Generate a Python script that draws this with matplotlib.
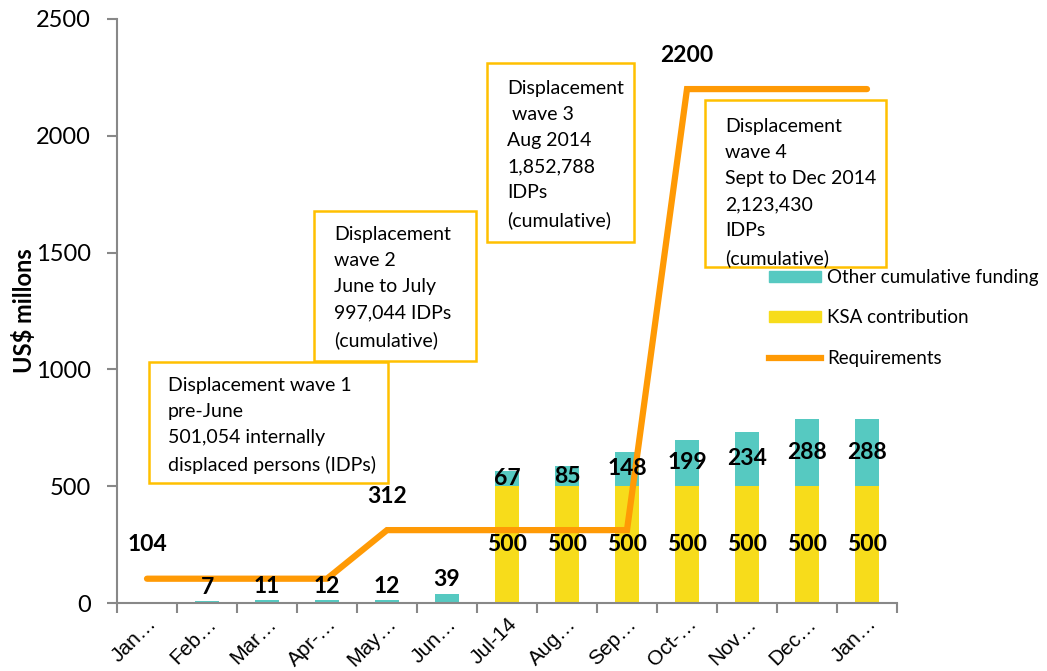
import matplotlib
matplotlib.use("Agg")
import matplotlib.pyplot as plt
from matplotlib.patches import Rectangle, Patch
from matplotlib.lines import Line2D
import numpy as np

# data
months = ["Jan\u2026", "Feb\u2026", "Mar\u2026", "Apr-\u2026", "May\u2026", "Jun\u2026", "Jul-14",
          "Aug\u2026", "Sep\u2026", "Oct-\u2026", "Nov\u2026", "Dec\u2026", "Jan\u2026"]
ksa = [0, 0, 0, 0, 0, 0, 500, 500, 500, 500, 500, 500, 500]
other = [0, 7, 11, 12, 12, 39, 67, 85, 148, 199, 234, 288, 288]
requirements = [104, 104, 104, 104, 312, 312, 312, 312, 312, 2200, 2200, 2200, 2200]
req_label_idx = [0, 4, 9]

box_texts = [
    "Displacement wave 1\npre-June\n501,054 internally\ndisplaced persons (IDPs)",
    "Displacement\nwave 2\nJune to July\n997,044 IDPs\n(cumulative)",
    "Displacement\n wave 3\nAug 2014\n1,852,788\nIDPs\n(cumulative)",
    "Displacement\nwave 4\nSept to Dec 2014\n2,123,430\nIDPs\n(cumulative)",
]

TEAL = "#56C9C1"
YELLOW = "#F7DC1B"
ORANGE = "#FF9A05"
BORDER = "#FFC000"
FONT = "Lato"

W, H = 1047, 671
fig = plt.figure(figsize=(W / 100, H / 100), dpi=100)
ax = fig.add_axes([117 / W, 1 - 603 / H, 780 / W, 584 / H])

x = np.arange(len(months))
ax.bar(x, ksa, width=0.4, color=YELLOW, label="KSA contribution", zorder=2)
ax.bar(x, other, width=0.4, bottom=ksa, color=TEAL, label="Other cumulative funding", zorder=2)
ax.plot(x, requirements, color=ORANGE, lw=4.5, solid_capstyle="round",
        solid_joinstyle="miter", zorder=3)

ax.set_xlim(-0.5, len(months) - 0.5)
ax.set_ylim(0, 2500)
ax.set_yticks(np.arange(0, 2501, 500))
ax.set_xticks(np.arange(-0.5, len(months), 1), minor=False)
ax.set_xticklabels([])
ax.set_xticks(x, minor=True)
ax.set_xticklabels(months, minor=True, rotation=45, ha="right", va="top",
                   rotation_mode="anchor", fontsize=15, family="Liberation Sans")
ax.tick_params(axis="x", which="minor", length=0, pad=8)
ax.tick_params(axis="x", which="major", length=7, color="#888888", width=1.5)
ax.tick_params(axis="y", length=7, color="#888888", width=1.5, pad=12)
for lbl in ax.get_yticklabels():
    lbl.set_fontsize(17)
    lbl.set_family(FONT)

for side in ["top", "right"]:
    ax.spines[side].set_visible(False)
for side in ["left", "bottom"]:
    ax.spines[side].set_color("#888888")
    ax.spines[side].set_linewidth(1.5)

ax.set_ylabel("US$ millons", fontsize=17, fontweight="bold", family=FONT, labelpad=0)

# data labels
lab = dict(fontsize=16.5, fontweight="bold", family=FONT, ha="center", va="center", zorder=5)
for i in range(len(months)):
    if ksa[i] > 0:
        ax.text(x[i], ksa[i] / 2, str(ksa[i]), **lab)
        ax.text(x[i], ksa[i] + other[i] / 2, str(other[i]), **lab)
    elif other[i] > 0:
        ax.annotate(str(other[i]), (x[i], other[i]), xytext=(0, 14),
                    textcoords="offset pixels", **lab)
for i in req_label_idx:
    ax.annotate(str(requirements[i]), (x[i], requirements[i]), xytext=(0, 34),
                textcoords="offset pixels", **lab)


# text boxes (pixel coords of the reference)
def px(xp, yp):
    return xp / W, 1 - yp / H


boxes = [(149, 362, 388, 483), (314, 211, 476, 361), (487, 63, 634, 242), (705, 100, 886, 267)]
text_pos = [(168, 377), (334, 226), (507, 80), (725, 118)]
for (x0, y0, x1, y1), (tx, ty), txt in zip(boxes, text_pos, box_texts):
    fx, fy = px(x0, y1)
    fig.patches.append(Rectangle((fx, fy), (x1 - x0) / W, (y1 - y0) / H, transform=fig.transFigure,
                                 facecolor="white", edgecolor=BORDER, lw=1.8, zorder=10))
    fig.text(*px(tx, ty), txt, fontsize=14, family=FONT, ha="left", va="top",
             linespacing=1.65, zorder=11)

handles = [Patch(color=TEAL), Patch(color=YELLOW), Line2D([], [], color=ORANGE, lw=4.5)]
labels = ["Other cumulative funding", "KSA contribution", "Requirements"]
fig.legend(handles, labels, loc="upper left", bbox_to_anchor=px(752, 252), frameon=False,
           prop={"family": FONT, "size": 13.5}, handlelength=2.8, handleheight=0.55,
           labelspacing=1.25, handletextpad=0.3)

fig.savefig("out.png", dpi=100)
